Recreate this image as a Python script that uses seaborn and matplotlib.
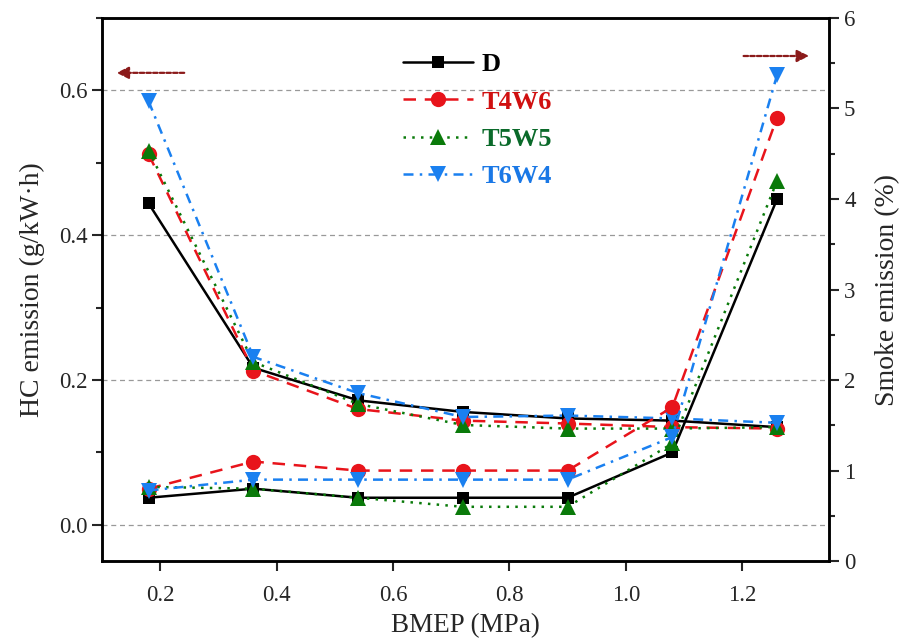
import numpy as np
import pandas as pd
import matplotlib
matplotlib.use("Agg")
import matplotlib.pyplot as plt
import seaborn as sns
from matplotlib.lines import Line2D
from matplotlib.ticker import MultipleLocator

# ---- data ----
bmep = [0.18, 0.36, 0.54, 0.72, 0.90, 1.08, 1.26]
fuels = ["D", "T4W6", "T5W5", "T6W4"]

hc_D    = [0.444, 0.217, 0.172, 0.156, 0.147, 0.144, 0.135]
hc_T4W6 = [0.512, 0.213, 0.160, 0.144, 0.140, 0.135, 0.133]
hc_T5W5 = [0.517, 0.225, 0.167, 0.138, 0.133, 0.133, 0.135]
hc_T6W4 = [0.585, 0.232, 0.182, 0.149, 0.151, 0.147, 0.141]

smoke_D    = [0.70, 0.80, 0.70, 0.70, 0.70, 1.20, 4.00]
smoke_T4W6 = [0.80, 1.10, 1.00, 1.00, 1.00, 1.70, 4.90]
smoke_T5W5 = [0.82, 0.80, 0.70, 0.60, 0.60, 1.30, 4.20]
smoke_T6W4 = [0.78, 0.90, 0.90, 0.90, 0.90, 1.37, 5.37]

xticks = [0.2, 0.4, 0.6, 0.8, 1.0, 1.2]
hc_ticks = [0.0, 0.2, 0.4, 0.6]
smoke_ticks = [0, 1, 2, 3, 4, 5, 6]

hc_df = pd.DataFrame({
    "BMEP": bmep * 4,
    "val": hc_D + hc_T4W6 + hc_T5W5 + hc_T6W4,
    "Fuel": sum([[f] * len(bmep) for f in fuels], []),
})
smoke_df = pd.DataFrame({
    "BMEP": bmep * 4,
    "val": smoke_D + smoke_T4W6 + smoke_T5W5 + smoke_T6W4,
    "Fuel": sum([[f] * len(bmep) for f in fuels], []),
})

colors = {"D": "#000000", "T4W6": "#e8141b", "T5W5": "#0a7a0a", "T6W4": "#1a80f0"}
text_colors = {"D": "#000000", "T4W6": "#d01010", "T5W5": "#0a6a2a", "T6W4": "#1a78e6"}
markers = {"D": "s", "T4W6": "o", "T5W5": "^", "T6W4": "v"}
dashes = {"D": "", "T4W6": (5, 3.5), "T5W5": (1, 2.5), "T6W4": (4, 2.5, 1, 2.5)}
msizes = {"D": 9, "T4W6": 11, "T5W5": 11.5, "T6W4": 11.5}

sns.set_theme(style="ticks")
plt.rcParams["font.family"] = ["Liberation Serif", "DejaVu Serif"]
plt.rcParams["mathtext.fontset"] = "stix"

fig = plt.figure(figsize=(9.15, 6.42), dpi=100)
ax = fig.add_axes([0.1115, 0.126, 0.795, 0.846])
ax2 = ax.twinx()

for f in fuels:
    sub = hc_df[hc_df.Fuel == f]
    sns.lineplot(data=sub, x="BMEP", y="val", ax=ax, color=colors[f], marker=markers[f],
                 markersize=msizes[f], markeredgewidth=0, linewidth=1.8,
                 legend=False, zorder=3)
    sub2 = smoke_df[smoke_df.Fuel == f]
    sns.lineplot(data=sub2, x="BMEP", y="val", ax=ax2, color=colors[f], marker=markers[f],
                 markersize=msizes[f], markeredgewidth=0, linewidth=1.8,
                 legend=False, zorder=3)

# apply line styles
for axx in (ax, ax2):
    for line, f in zip(axx.get_lines(), fuels):
        if dashes[f]:
            line.set_dashes(dashes[f])
        else:
            line.set_linestyle("-")

ax.set_xlim(0.1, 1.35)
ax.set_ylim(-0.05, 0.7)
ax2.set_ylim(0, 6)
ax.set_xticks(xticks)
ax.set_xticklabels([f"{t:.1f}" for t in xticks])
ax.set_yticks(hc_ticks)
ax.set_yticklabels([f"{t:.1f}" for t in hc_ticks])
ax.yaxis.set_minor_locator(MultipleLocator(0.1))
ax2.set_yticks(smoke_ticks)
ax2.set_yticklabels([str(t) for t in smoke_ticks])
ax2.yaxis.set_minor_locator(MultipleLocator(0.5))

for t in hc_ticks:
    ax.axhline(t, color="#999999", lw=0.9, ls=(0, (4, 3)), zorder=0)

ax.set_xlabel("BMEP (MPa)", fontsize=19.5, labelpad=5)
ax.set_ylabel("HC emission (g/kW·h)", fontsize=20, labelpad=10)
ax2.set_ylabel("Smoke emission (%)", fontsize=20, labelpad=14)

for axx in (ax, ax2):
    axx.tick_params(axis="both", which="major", labelsize=16.5, width=1.5, length=7, direction="out")
    axx.tick_params(axis="both", which="minor", width=1.5, length=4, direction="out")
    for s in axx.spines.values():
        s.set_linewidth(1.8)
        s.set_color("black")
ax.tick_params(axis="x", which="minor", bottom=False)
ax.tick_params(axis="x", pad=10)

# legend
handles = []
for f in fuels:
    h = Line2D([0], [0], color=colors[f], marker=markers[f], markersize=msizes[f],
               markeredgewidth=0, linewidth=1.8)
    if dashes[f]:
        h.set_dashes(dashes[f])
    handles.append(h)
leg = ax.legend(handles, fuels, loc="upper left", bbox_to_anchor=(0.396, 0.96),
                frameon=False, borderpad=0, handlelength=2.65, handletextpad=0.3,
                labelspacing=0.52, prop={"family": "Liberation Serif", "weight": "bold", "size": 19})
for txt, f in zip(leg.get_texts(), fuels):
    txt.set_color(text_colors[f])

# arrows
arrow_col = "#8b1a1a"
ax.annotate("", xy=(0.020, 0.899), xytext=(0.113, 0.899), xycoords="axes fraction",
            arrowprops=dict(arrowstyle="-|>", color=arrow_col, lw=1.6, linestyle=(0, (2, 1)),
                            mutation_scale=18, shrinkA=0, shrinkB=0))
ax.annotate("", xy=(0.972, 0.930), xytext=(0.882, 0.930), xycoords="axes fraction",
            arrowprops=dict(arrowstyle="-|>", color=arrow_col, lw=1.6, linestyle=(0, (2, 1)),
                            mutation_scale=18, shrinkA=0, shrinkB=0))

fig.savefig("out.png", dpi=100)
